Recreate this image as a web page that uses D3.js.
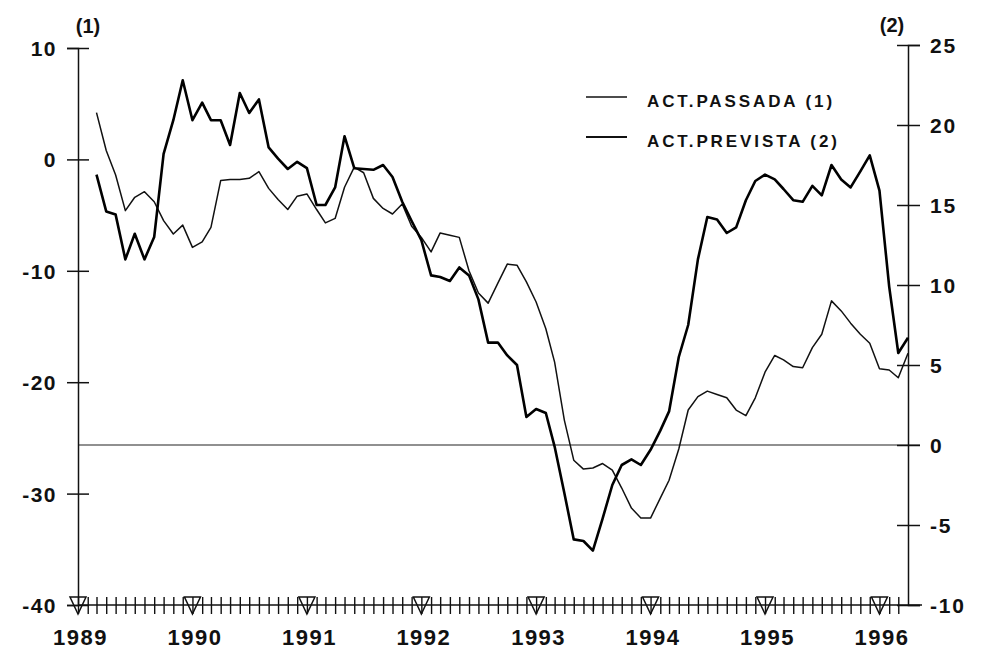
<!DOCTYPE html>
<html>
<head>
<meta charset="utf-8">
<script src="https://cdn.jsdelivr.net/npm/d3@7/dist/d3.min.js"></script>
<style>
  html, body { margin: 0; padding: 0; background: #fff; }
  svg { display: block; }
  text { font-family: "Liberation Sans", Arial, sans-serif; font-weight: bold; fill: #111; }
</style>
</head>
<body>
<svg id="chart" width="985" height="651"></svg>
<script>
// ---- Data (monthly, Mar 1989 – Apr 1996) ----
const startDate = [1989, 2]; // year, month index (March)
const actPassada = [ // left axis (1)
  4.2, 0.8, -1.4, -4.6, -3.4, -2.9, -3.8, -5.5, -6.7, -5.9,
  -7.9, -7.4, -6.1, -1.9, -1.8, -1.8, -1.7, -1.1, -2.6, -3.6, -4.5, -3.3,
  -3.1, -4.5, -5.7, -5.3, -2.5, -0.7, -1.2, -3.5, -4.4, -4.9, -4.0, -6.0,
  -7.0, -8.3, -6.6, -6.8, -7.0, -10.0, -12.0, -12.9, -11.1, -9.4, -9.5, -11.0,
  -12.8, -15.2, -18.2, -23.4, -27.0, -27.8, -27.7, -27.3, -27.9, -29.5, -31.3, -32.2,
  -32.2, -30.4, -28.8, -26.0, -22.5, -21.3, -20.8, -21.1, -21.4, -22.5, -23.0, -21.4,
  -19.1, -17.6, -18.0, -18.6, -18.7, -16.9, -15.7, -12.7, -13.6, -14.7, -15.7, -16.5,
  -18.8, -18.9, -19.6, -17.4
];
const actPrevista = [ // right axis (2)
  16.9, 14.6, 14.4, 11.6, 13.2, 11.6, 13.0, 18.2, 20.3, 22.8,
  20.3, 21.4, 20.3, 20.3, 18.75, 22.0, 20.75, 21.6, 18.6, 17.9, 17.25, 17.7,
  17.3, 15.0, 15.0, 16.1, 19.3, 17.3, 17.25, 17.2, 17.5, 16.75, 15.2, 14.0,
  12.8, 10.6, 10.5, 10.25, 11.1, 10.6, 9.1, 6.4, 6.4, 5.6, 5.0, 1.75,
  2.25, 2.0, -0.1, -3.0, -5.9, -6.0, -6.6, -4.6, -2.5, -1.25, -0.9, -1.25,
  -0.3, 0.9, 2.1, 5.5, 7.5, 11.6, 14.25, 14.1, 13.25, 13.6, 15.3, 16.5,
  16.9, 16.6, 16.0, 15.3, 15.2, 16.2, 15.6, 17.5, 16.6, 16.1, 17.1, 18.1,
  15.9, 9.9, 5.75, 6.7
];
const years = [1989, 1990, 1991, 1992, 1993, 1994, 1995, 1996];
const leftTicks = [10, 0, -10, -20, -30, -40];
const rightTicks = [25, 20, 15, 10, 5, 0, -5, -10];
const legendLabels = ["ACT.PASSADA (1)", "ACT.PREVISTA (2)"];

// ---- Layout ----
const X0 = 78, X1 = 908, YB = 605;
const svg = d3.select("#chart");

const x = d3.scaleTime()
  .domain([new Date(1989, 0, 1), new Date(1996, 3, 1)])
  .range([X0, X1]);
const yL = d3.scaleLinear().domain([-40, 10]).range([YB, 48]);
const yR = d3.scaleLinear().domain([-10, 25]).range([YB, 45]);

const dates = actPassada.map((_, i) => new Date(startDate[0], startDate[1] + i, 1));

// zero line of right axis
svg.append("line")
  .attr("x1", X0).attr("x2", X1 + 12)
  .attr("y1", yR(0)).attr("y2", yR(0))
  .attr("stroke", "#222").attr("stroke-width", 1.2);

// Left axis
const gL = svg.append("g").attr("transform", `translate(${X0},0)`)
  .call(d3.axisLeft(yL).tickValues(leftTicks).tickSizeOuter(0).tickSize(11).tickPadding(0)
    .tickFormat(d => d));
gL.select(".domain").attr("stroke", "#111").attr("stroke-width", 1.5);
gL.selectAll(".tick line").attr("x1", -11).attr("x2", 11).attr("stroke", "#111").attr("stroke-width", 1.5);
gL.selectAll(".tick text").attr("x", -21).attr("dy", "0.36em")
  .style("font-size", "21px").style("letter-spacing", "1.5px").attr("font-family", null);

// Right axis
const gR = svg.append("g").attr("transform", `translate(${X1},0)`)
  .call(d3.axisRight(yR).tickValues(rightTicks).tickSizeOuter(0).tickSize(12).tickPadding(0)
    .tickFormat(d => d));
gR.select(".domain").attr("stroke", "#111").attr("stroke-width", 1.5);
gR.selectAll(".tick line").attr("x1", -11).attr("x2", 12).attr("stroke", "#111").attr("stroke-width", 1.5);
gR.selectAll(".tick text").attr("x", 22).attr("dy", "0.36em")
  .style("font-size", "21px").style("letter-spacing", "1.8px").attr("font-family", null);

// Bottom axis with monthly ticks
const months = d3.timeMonth.range(new Date(1989, 0, 1), new Date(1996, 3, 1));
const gB = svg.append("g").attr("transform", `translate(0,${YB})`)
  .call(d3.axisBottom(x).tickValues(months).tickSizeOuter(0).tickSize(9)
    .tickFormat(d => d.getMonth() === 0 ? d.getFullYear() : ""));
gB.select(".domain").attr("d", `M${X0},0H${X1 + 14}`).attr("stroke", "#111").attr("stroke-width", 1.5);
gB.selectAll(".tick line").attr("y1", -8).attr("y2", 9).attr("stroke", "#111").attr("stroke-width", 1.4);
gB.selectAll(".tick text").attr("y", 40).attr("dy", 0).attr("dx", 2)
  .style("font-size", "22px").style("letter-spacing", "1.5px").attr("font-family", null);

// Year triangles
svg.append("g").selectAll("path").data(years).join("path")
  .attr("d", d => {
    const cx = x(new Date(d, 0, 1));
    return `M${cx - 8},${YB - 8}L${cx + 8},${YB - 8}L${cx},${YB + 9}Z`;
  })
  .attr("fill", "none").attr("stroke", "#111").attr("stroke-width", 1.5);

// Axis unit labels
svg.append("text").attr("x", 88).attr("y", 33).attr("text-anchor", "middle")
  .style("font-size", "20px").text("(1)");
svg.append("text").attr("x", 892).attr("y", 32).attr("text-anchor", "middle")
  .style("font-size", "20px").text("(2)");

// Lines
const lineL = d3.line().x((d, i) => x(dates[i])).y(d => yL(d));
const lineR = d3.line().x((d, i) => x(dates[i])).y(d => yR(d));
svg.append("path").datum(actPassada).attr("d", lineL)
  .attr("fill", "none").attr("stroke", "#111").attr("stroke-width", 1.5).attr("stroke-linejoin", "round");
svg.append("path").datum(actPrevista).attr("d", lineR)
  .attr("fill", "none").attr("stroke", "#000").attr("stroke-width", 2.6).attr("stroke-linejoin", "round");

// Legend
const legY = [107, 147];
const legW = [1.3, 2.2];
legendLabels.forEach((lab, i) => {
  svg.append("line").attr("x1", 586).attr("x2", 627)
    .attr("y1", legY[i] - 10).attr("y2", legY[i] - 10)
    .attr("stroke", "#111").attr("stroke-width", legW[i]);
  svg.append("text").attr("x", 647).attr("y", legY[i])
    .style("font-size", "17px").style("letter-spacing", "2.9px").text(lab);
});
</script>
</body>
</html>
